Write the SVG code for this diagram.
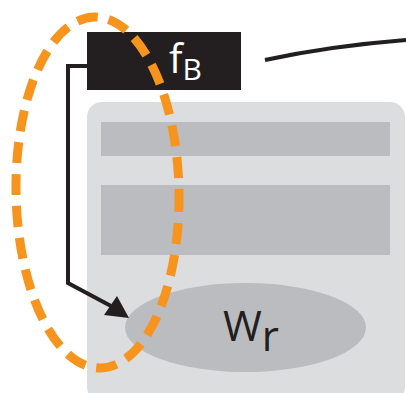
<svg xmlns="http://www.w3.org/2000/svg" width="406" height="393" viewBox="0 0 406 393">
<style>
.lbl{font-family:"Open Sans","Noto Sans",sans-serif;}
.conn{fill:none;stroke:#231f20;stroke-width:4;}
</style>
<rect width="406" height="393" fill="#ffffff"/>
<g id="module">
<rect x="87" y="102" width="318" height="300" rx="15" fill="#dcdddf"/>
<rect x="101" y="122" width="289" height="34" fill="#bbbcbf"/>
<rect x="101" y="185" width="289" height="70" fill="#bbbcbf"/>
</g>
<g id="wr">
<ellipse cx="245.5" cy="327.5" rx="120.5" ry="44.5" fill="#bbbcbf"/>
<text class="lbl" x="223" y="341" font-size="42" fill="#231f20">W<tspan dy="10">r</tspan></text>
</g>
<g id="fb">
<rect x="87" y="32" width="154" height="58" fill="#231f20"/>
<text class="lbl" x="169" y="73" font-size="40" fill="#ffffff">f<tspan font-size="30" dy="7">B</tspan></text>
</g>
<g id="connectors">
<path class="conn" d="M87 66 H68 V283 L111 306"/>
<polygon points="129,318 104,315 117,296" fill="#231f20"/>
<path class="conn" d="M265 60 Q330 46 406 40" stroke-width="3.5"/>
</g>
<g id="highlight">
<ellipse cx="97.5" cy="192.5" rx="81.5" ry="175.5" fill="none" stroke="#f7941d" stroke-width="9" stroke-dasharray="21 11" transform="rotate(-1 97.5 192.5)"/>
</g>
</svg>
